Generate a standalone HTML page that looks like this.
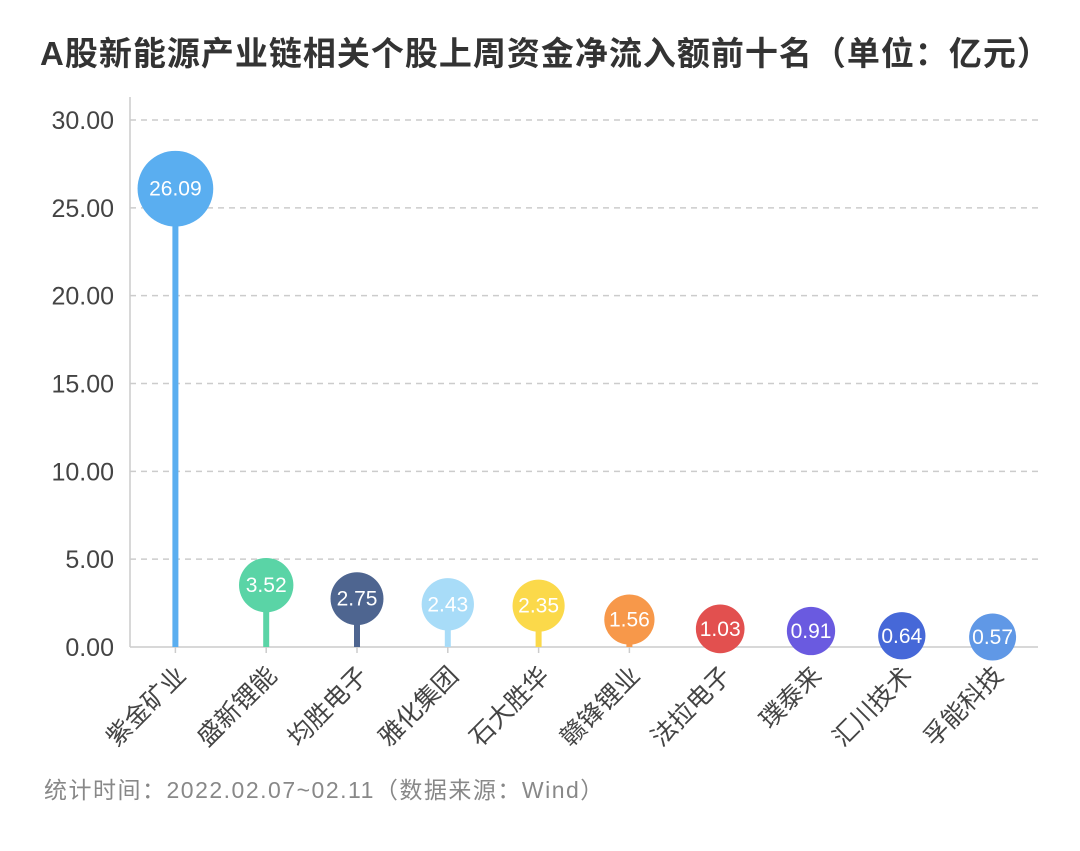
<!DOCTYPE html>
<html><head><meta charset="utf-8"><style>
body{margin:0;background:#fff;}
svg text{font-family:"Liberation Sans","Noto Sans CJK SC",sans-serif;}
</style></head><body>
<svg id="chart" width="1080" height="846" xmlns="http://www.w3.org/2000/svg">
<text x="40" y="65" font-size="33" letter-spacing="1" font-weight="bold" fill="#333">A股新能源产业链相关个股上周资金净流入额前十名（单位：亿元）</text>
<text x="44" y="798" font-size="23" letter-spacing="1.5" fill="#888">统计时间：2022.02.07~02.11（数据来源：Wind）</text>
<g id="grid"></g><g id="axes"></g><g id="marks"></g>
</svg>
<script>
const categories=["紫金矿业","盛新锂能","均胜电子","雅化集团","石大胜华","赣锋锂业","法拉电子","璞泰来","汇川技术","孚能科技"];
const values=[26.09,3.52,2.75,2.43,2.35,1.56,1.03,0.91,0.64,0.57];
const colors=["#5aaef0","#5ad4a6","#4e6590","#a8dcf8","#fbd94a","#f7984a","#e2504f","#6a5ae0","#4668d8","#6098e6"];
const yTicks=[0,5,10,15,20,25,30];
const NS="http://www.w3.org/2000/svg";
const x0=130,x1=1038,y0=647,y1=120,yMax=30;
const yScale=v=>y0-(v/yMax)*(y0-y1);
const bw=(x1-x0)/categories.length;
const xScale=i=>x0+bw*(i+0.5);
function mk(tag,attrs,parent){const e=document.createElementNS(NS,tag);for(const k in attrs)e.setAttribute(k,attrs[k]);parent.appendChild(e);return e;}
const grid=document.getElementById('grid'),axes=document.getElementById('axes'),marks=document.getElementById('marks');
yTicks.forEach(t=>{
  const y=yScale(t);
  if(t>0){const l=mk('line',{x1:x0,x2:x1,y1:y,y2:y,stroke:'#ccc','stroke-width':1.5,'stroke-dasharray':'6,5'},grid);
  
  }
  const tx=mk('text',{x:114,y:y+9,'font-size':25,fill:'#444','text-anchor':'end'},axes);
  tx.textContent=t.toFixed(2);
  
  
});
const ya=mk('line',{x1:x0,x2:x0,y1:97,y2:y0,stroke:'#ccc','stroke-width':1.5},axes);


const xa=mk('line',{x1:x0,x2:x1,y1:y0,y2:y0,stroke:'#ccc','stroke-width':1.5},axes);


categories.forEach((c,i)=>{
  const x=xScale(i);
  const tk=mk('line',{x1:x,x2:x,y1:y0,y2:y0+6,stroke:'#ccc','stroke-width':1.5},axes);
  
  
  const lb=mk('text',{x:x+12,y:y0+30,'font-size':25,fill:'#444','text-anchor':'end',transform:`rotate(-45 ${x+12} ${y0+30})`},axes);
  lb.textContent=c;
  
  
  const v=values[i],y=yScale(v),r=21+3.3*Math.sqrt(v);
  const st=mk('line',{x1:x,x2:x,y1:y,y2:y0,stroke:colors[i],'stroke-width':6},marks);
  
  
  const ci=mk('circle',{cx:x,cy:y,r:r,fill:colors[i]},marks);
  
  
  const vt=mk('text',{x:x,y:y+7,'font-size':21,fill:'#fff','text-anchor':'middle'},marks);
  vt.textContent=v.toFixed(2);
  
  
});
</script>
</body></html>
